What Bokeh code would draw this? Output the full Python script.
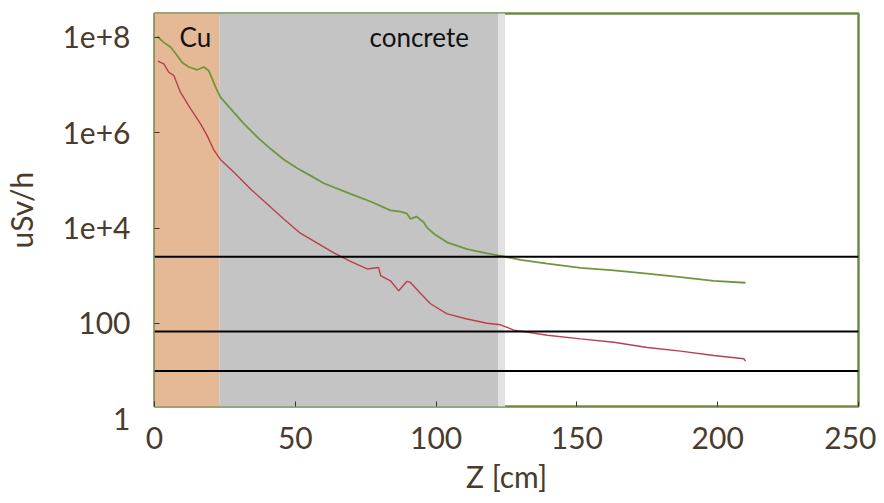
from bokeh.plotting import figure
from bokeh.models import (Span, Label, FixedTicker, ColumnDataSource)
from bokeh.embed import file_html
from bokeh.resources import INLINE

# ---------------- data ----------------
layer_names = ["Cu", "concrete"]
layer_start = [0, 23]
layer_end = [23, 122]
layer_colors = ["#e5b896", "#c4c4c4"]

limit_levels = [2500, 67, 10]

green_z = [1.0, 3.3, 5.7, 7.5, 9.8, 12.2, 15.2, 17.5, 19.3, 20.5, 21.7, 23.4, 27.0, 31.7,
           36.5, 41.2, 45.9, 50.7, 55.4, 60.1, 69.6, 76.7, 83.8, 87.4, 89.7, 90.9, 93.0,
           95.6, 96.8, 99.2, 103.9, 111.0, 118.1, 122.9, 130.0, 139.5, 151.3, 163.1,
           175.0, 186.8, 198.6, 209.9]
green_dose = [1.05e8, 7.9e7, 6.3e7, 4.6e7, 3.0e7, 2.4e7, 2.1e7, 2.4e7, 2.0e7, 1.35e7, 9.1e6,
              5.6e6, 3.2e6, 1.55e6, 8.1e5, 4.6e5, 2.75e5, 1.8e5, 1.26e5, 8.7e4, 5.2e4, 3.6e4,
              2.35e4, 2.2e4, 2.0e4, 1.55e4, 1.74e4, 1.32e4, 1.02e4, 7.6e3, 5.0e3, 3.6e3,
              2.95e3, 2.6e3, 2.15e3, 1.78e3, 1.45e3, 1.29e3, 1.1e3, 930, 780, 710]

red_z = [1.2, 3.3, 5.1, 6.9, 9.2, 12.8, 16.3, 18.7, 21.1, 23.4, 28.2, 34.1, 40.0, 45.9,
         51.8, 57.8, 63.7, 69.6, 75.5, 79.6, 80.3, 83.8, 86.7, 89.7, 90.9, 94.5, 98.0,
         103.9, 111.0, 118.1, 122.9, 127.6, 139.5, 151.3, 163.1, 175.0, 186.8, 198.6,
         209.3, 209.9]
red_dose = [3.2e7, 2.8e7, 1.86e7, 1.58e7, 7.1e6, 3.2e6, 1.55e6, 8.7e5, 4.3e5, 2.75e5, 1.48e5,
            6.6e4, 3.2e4, 1.55e4, 7.8e3, 4.8e3, 3.0e3, 2.0e3, 1.38e3, 1.48e3, 1.0e3, 780, 480,
            760, 720, 420, 257, 158, 123, 100, 93, 72, 56, 47, 40, 31, 26, 21, 18, 16]

x_ticks = [0, 50, 100, 150, 200, 250]
y_ticks = [1e2, 1e4, 1e6, 1e8]
y_tick_labels = {1e2: "100", 1e4: "1e+4", 1e6: "1e+6", 1e8: "1e+8"}

# ---------------- figure ----------------
FONT = "Lato"
TXT = "#4a3b2c"
FRAME = "#6f8a46"

p = figure(width=876, height=498, x_range=(0, 250), y_range=(1.79, 3.19e8),
           y_axis_type="log", output_backend="svg", toolbar_location=None,
           min_border_left=154, min_border_right=18, min_border_top=13, min_border_bottom=92,
           background_fill_color="white", border_fill_color="white")
p.outline_line_color = FRAME
p.outline_line_width = 2.5
p.grid.visible = False

# layers
src_layers = ColumnDataSource(dict(left=layer_start, right=layer_end, color=layer_colors))
p.quad(left="left", right="right", bottom=1e-1, top=1e10, color="color",
       source=src_layers, line_color=None)
# soft edge right of the concrete block
p.quad(left=[layer_end[-1]], right=[layer_end[-1] + 2.5], bottom=1e-1, top=1e10,
       color="#e2e2e2", line_color=None)

# limit lines
for lv in limit_levels:
    p.add_layout(Span(location=lv, dimension="width", line_color="black", line_width=2))

# curves
p.line(green_z, green_dose, line_color="#6f963c", line_width=1.8)
p.line(red_z, red_dose, line_color="#bb3f4b", line_width=1.4)

# layer names
label_x = {"Cu": 14.5, "concrete": 94}
for name in layer_names:
    p.add_layout(Label(x=label_x[name], y=1e8, text=name, text_align="center",
                       text_baseline="middle", text_font=FONT, text_font_size="26px",
                       text_color="#111111"))

# axes
xa = p.xaxis[0]
xa.ticker = FixedTicker(ticks=x_ticks)
xa.axis_label = "Z [cm]"
ya = p.yaxis[0]
ya.ticker = FixedTicker(ticks=y_ticks, minor_ticks=[])
ya.major_label_overrides = y_tick_labels
ya.axis_label = "uSv/h"
for ax in (xa, ya):
    ax.axis_line_color = None
    ax.major_tick_in = 5
    ax.major_tick_out = 0
    ax.minor_tick_in = 3
    ax.minor_tick_out = 0
    ax.major_tick_line_color = "#333333"
    ax.minor_tick_line_color = "#333333"
    ax.major_label_text_font = FONT
    ax.major_label_text_font_size = "30px"
    ax.major_label_text_color = TXT
    ax.axis_label_text_font = FONT
    ax.axis_label_text_font_size = "30px"
    ax.axis_label_text_font_style = "normal"
    ax.axis_label_text_color = TXT
xa.major_label_standoff = 20
xa.axis_label_standoff = 6
ya.major_label_standoff = 24
ya.axis_label_standoff = 20

# "1" label just below the frame; kept in a side panel so it is not clipped to the frame
p.add_layout(Label(x=0, y=1, x_offset=-24, text="1",
                   text_align="right", text_baseline="middle",
                   text_font=FONT, text_font_size="30px", text_color=TXT), "right")

open("out.html", "w").write(file_html(p, INLINE))
